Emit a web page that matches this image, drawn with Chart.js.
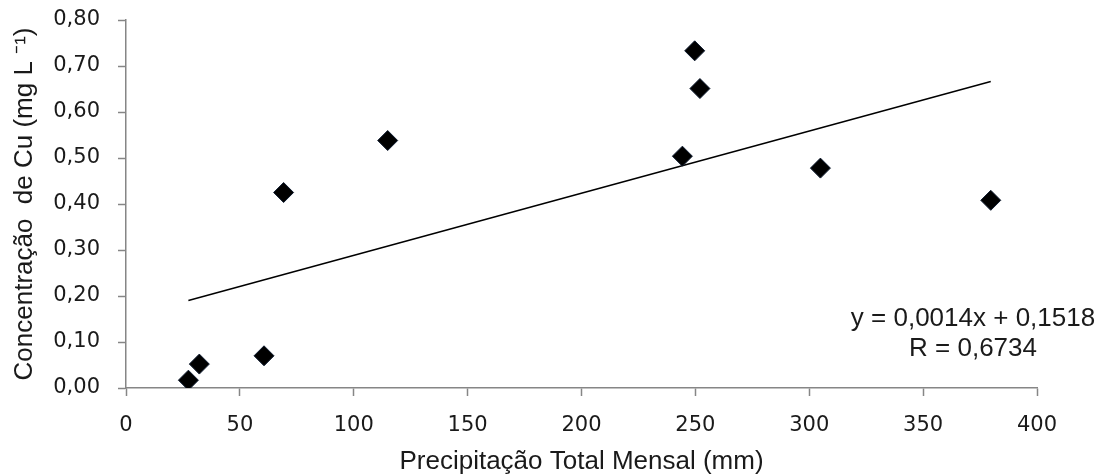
<!DOCTYPE html>
<html><head><meta charset="utf-8">
<script src="https://cdn.jsdelivr.net/npm/chart.js@4"></script>
<style>html,body{margin:0;padding:0;background:#fff}#wrap{width:1105px;height:475px}</style>
</head><body><div id="wrap"><canvas id="c" width="1105" height="475"></canvas></div>
<script>
// Data
const precipitation = [27.4, 32.2, 60.6, 69.2, 114.9, 244.3, 249.7, 252.0, 304.9, 379.7];
const copper = [0.017, 0.052, 0.070, 0.425, 0.538, 0.504, 0.733, 0.651, 0.478, 0.408];
const xTickValues = [0, 50, 100, 150, 200, 250, 300, 350, 400];
const yTickValues = [0, 0.1, 0.2, 0.3, 0.4, 0.5, 0.6, 0.7, 0.8];
const equationLines = ['y = 0,0014x + 0,1518', 'R = 0,6734'];
const xTitle = 'Precipitação Total Mensal (mm)';
const yTitle = 'Concentração  de Cu (mg L \u207B\u00B9)';

// least-squares trendline from the points
const n = precipitation.length;
const mx = precipitation.reduce((a, b) => a + b, 0) / n;
const my = copper.reduce((a, b) => a + b, 0) / n;
let sxy = 0, sxx = 0;
for (let i = 0; i < n; i++) { sxy += (precipitation[i] - mx) * (copper[i] - my); sxx += (precipitation[i] - mx) ** 2; }
const slope = sxy / sxx, intercept = my - slope * mx;
const xMin = Math.min(...precipitation), xMax = Math.max(...precipitation);
const trend = [xMin, xMax].map(x => ({ x, y: intercept + slope * x }));

const points = precipitation.map((x, i) => ({ x, y: copper[i] }));

const axisColor = '#868686';
const textColor = '#1a1a1a';

const equationPlugin = {
  id: 'equation',
  afterDraw(chart) {
    const ctx = chart.ctx;
    ctx.save();
    ctx.font = '26px "Liberation Sans", Arial, sans-serif';
    ctx.fillStyle = textColor;
    ctx.textAlign = 'center';
    ctx.textBaseline = 'middle';
    equationLines.forEach((t, i) => ctx.fillText(t, 973, 319 + i * 30));
    ctx.restore();
  }
};

new Chart(document.getElementById('c'), {
  type: 'scatter',
  data: {
    datasets: [
      { type: 'line', data: trend, borderColor: '#000', borderWidth: 1.5, pointRadius: 0, fill: false, order: 2 },
      { data: points, pointStyle: 'rectRot', pointRadius: 10, pointHoverRadius: 10,
        backgroundColor: '#000', borderColor: '#0d1a2e', borderWidth: 1, order: 1 }
    ]
  },
  options: {
    responsive: false,
    animation: false,
    devicePixelRatio: 1,
    layout: { padding: { top: 20, right: 68, left: 0, bottom: 0 } },
    plugins: { legend: { display: false }, tooltip: { enabled: false } },
    scales: {
      x: {
        type: 'linear', min: 0, max: 400,
        afterBuildTicks: s => { s.ticks = xTickValues.map(v => ({ value: v })); },
        afterFit: s => { s.height = 87; s.paddingLeft = 0; s.paddingRight = 0; },
        grid: { drawOnChartArea: false, tickLength: 8, tickColor: axisColor, tickWidth: 1.5 },
        border: { color: axisColor, width: 1.5 },
        ticks: { color: textColor, font: { family: '"DejaVu Sans", Verdana, sans-serif', size: 21 }, padding: 17, maxRotation: 0,
          callback: v => String(v) },
        title: { display: true, text: xTitle, color: textColor, font: { family: '"Liberation Sans", Arial, sans-serif', size: 26, lineHeight: 1.0 }, padding: { top: 0, bottom: 0 } }
      },
      y: {
        type: 'linear', min: 0, max: 0.8,
        afterBuildTicks: s => { s.ticks = yTickValues.map(v => ({ value: v })); },
        afterFit: s => { s.width = 126; s.paddingTop = 0; s.paddingBottom = 0; },
        grid: { drawOnChartArea: false, tickLength: 8, tickColor: axisColor, tickWidth: 1.5 },
        border: { color: axisColor, width: 1.5 },
        ticks: { color: textColor, font: { family: '"DejaVu Sans", Verdana, sans-serif', size: 21 }, padding: 18,
          callback: v => v.toFixed(2).replace('.', ',') },
        title: { display: true, text: yTitle, color: textColor, font: { family: '"Liberation Sans", Arial, sans-serif', size: 26, lineHeight: 1.0 }, padding: { top: 12, bottom: 0 } }
      }
    }
  },
  plugins: [equationPlugin]
});
</script></body></html>
